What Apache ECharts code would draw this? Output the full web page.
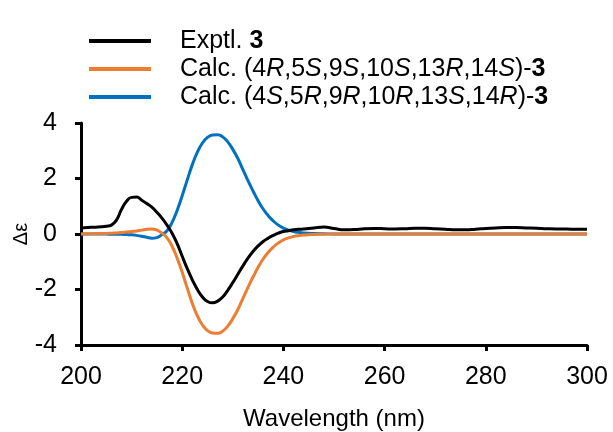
<!DOCTYPE html>
<html>
<head>
<meta charset="utf-8">
<script src="https://cdn.jsdelivr.net/npm/echarts@6/dist/echarts.min.js"></script>
<style>
  html, body { margin: 0; padding: 0; background: #fff; }
  #chart { width: 613px; height: 432px; }
</style>
</head>
<body>
<div id="chart"></div>
<script>
// CD spectra: experimental curve and two calculated enantiomer curves
const wavelengths = [
  200, 202, 204, 205, 206, 207, 208, 209, 210, 211, 212, 213, 214, 215, 216, 217, 218, 219,
  220, 221, 222, 223, 224, 225, 226, 227, 228, 229, 230, 231, 232, 233, 234, 235, 236, 237,
  238, 239, 240, 241, 242, 243, 244, 246, 248, 250, 252, 254, 256, 258, 260, 262, 264, 266,
  268, 270, 272, 274, 276, 278, 280, 282, 284, 286, 288, 290, 292, 294, 296, 298, 300
];

const exptl = [
  0.22, 0.24, 0.26, 0.28, 0.32, 0.50, 0.88, 1.18, 1.32, 1.33, 1.22, 1.10, 0.97, 0.78, 0.57, 0.32, 0.03, -0.35,
  -0.80, -1.25, -1.65, -2.00, -2.27, -2.43, -2.48, -2.42, -2.27, -2.03, -1.75, -1.45, -1.15, -0.87, -0.63, -0.43, -0.27, -0.15,
  -0.05, 0.03, 0.09, 0.12, 0.15, 0.17, 0.18, 0.22, 0.25, 0.20, 0.15, 0.16, 0.19, 0.20, 0.19, 0.18, 0.19, 0.21,
  0.21, 0.19, 0.17, 0.15, 0.15, 0.17, 0.20, 0.22, 0.23, 0.23, 0.22, 0.21, 0.19, 0.18, 0.18, 0.17, 0.17
];

const calcRS = [
  0.00, 0.01, 0.02, 0.02, 0.03, 0.04, 0.05, 0.07, 0.09, 0.11, 0.14, 0.17, 0.18, 0.14, 0.03, -0.14, -0.44, -0.87,
  -1.38, -1.95, -2.50, -2.95, -3.28, -3.48, -3.57, -3.58, -3.50, -3.32, -3.05, -2.72, -2.32, -1.92, -1.55, -1.20, -0.90, -0.66,
  -0.47, -0.32, -0.21, -0.14, -0.09, -0.06, -0.04, -0.02, -0.01, 0.00, 0.00, 0.00, 0.00, 0.00, 0.00, 0.00, 0.00, 0.00,
  0.00, 0.00, 0.00, 0.00, 0.00, 0.00, 0.00, 0.00, 0.00, 0.00, 0.00, 0.00, 0.00, 0.00, 0.00, 0.00, 0.00
];

const calcSR = [
  0.00, 0.00, 0.00, 0.00, -0.01, -0.01, -0.01, -0.02, -0.03, -0.05, -0.08, -0.12, -0.15, -0.13, -0.02, 0.12, 0.42, 0.85,
  1.38, 1.95, 2.50, 2.95, 3.28, 3.48, 3.57, 3.58, 3.50, 3.32, 3.05, 2.72, 2.32, 1.92, 1.55, 1.20, 0.90, 0.66,
  0.47, 0.32, 0.21, 0.14, 0.09, 0.06, 0.04, 0.02, 0.01, 0.00, 0.00, 0.00, 0.00, 0.00, 0.00, 0.00, 0.00, 0.00,
  0.00, 0.00, 0.00, 0.00, 0.00, 0.00, 0.00, 0.00, 0.00, 0.00, 0.00, 0.00, 0.00, 0.00, 0.00, 0.00, 0.00
];

const seriesNames = ['Exptl. 3', 'Calc. (4R,5S,9S,10S,13R,14S)-3', 'Calc. (4S,5R,9R,10R,13S,14R)-3'];
const legendLabels = [
  'Exptl. {b|3}',
  'Calc. (4{i|R},5{i|S},9{i|S},10{i|S},13{i|R},14{i|S})-{b|3}',
  'Calc. (4{i|S},5{i|R},9{i|R},10{i|R},13{i|S},14{i|R})-{b|3}'
];
const seriesColors = ['#000000', '#ED7D31', '#0070C0'];
const xTicks = { min: 200, max: 300, interval: 20 };
const yTicks = { min: -4, max: 4, interval: 2 };

const font = 'Liberation Sans, Arial, sans-serif';
const fs = 25;
const pairs = (ys) => wavelengths.map((x, i) => [x, ys[i]]);

const chart = echarts.init(document.getElementById('chart'), null, { renderer: 'canvas' });

const mkSeries = (i, ys) => ({
  name: seriesNames[i],
  type: 'line',
  data: pairs(ys),
  smooth: 0.5,
  showSymbol: false,
  symbol: 'none',
  lineStyle: { color: seriesColors[i], width: 3 },
  itemStyle: { color: seriesColors[i] },
  z: 10 - i
});

chart.setOption({
  animation: false,
  backgroundColor: '#ffffff',
  grid: { left: 81, right: 26, top: 123, bottom: 87, containLabel: false, outerBoundsMode: 'none' },
  legend: {
    orient: 'vertical',
    left: 84,
    top: 22,
    itemGap: 0,
    itemWidth: 62,
    itemHeight: 4,
    icon: 'rect',
    data: seriesNames,
    formatter: (name) => legendLabels[seriesNames.indexOf(name)],
    textStyle: {
      fontFamily: font,
      fontSize: fs,
      color: '#000',
      lineHeight: 28,
      padding: [0, 0, 0, 24],
      rich: {
        i: { fontFamily: font, fontSize: fs, lineHeight: 28, fontStyle: 'italic', color: '#000' },
        b: { fontFamily: font, fontSize: fs, lineHeight: 28, fontWeight: 'bold', color: '#000' }
      }
    }
  },
  xAxis: {
    type: 'value',
    min: xTicks.min,
    max: xTicks.max,
    interval: xTicks.interval,
    name: 'Wavelength (nm)',
    nameLocation: 'middle',
    nameGap: 62,
    nameMoveOverlap: false,
    nameTextStyle: { fontFamily: font, fontSize: 24, color: '#000' },
    axisLine: { show: true, onZero: false, lineStyle: { color: '#000', width: 3 } },
    axisTick: { show: true, inside: false, length: 6, lineStyle: { color: '#000', width: 3 } },
    axisLabel: { fontFamily: font, fontSize: fs, color: '#000', margin: 20 },
    splitLine: { show: false }
  },
  yAxis: {
    type: 'value',
    min: yTicks.min,
    max: yTicks.max,
    interval: yTicks.interval,
    name: 'Δε',
    nameLocation: 'middle',
    nameGap: 50,
    nameMoveOverlap: false,
    nameRotate: 90,
    nameTextStyle: { fontFamily: font, fontSize: 20, color: '#000' },
    axisLine: { show: true, onZero: false, lineStyle: { color: '#000', width: 3 } },
    axisTick: { show: true, inside: false, length: 6, lineStyle: { color: '#000', width: 3 } },
    axisLabel: { fontFamily: font, fontSize: fs, color: '#000', margin: 24 },
    splitLine: { show: false }
  },
  series: [mkSeries(0, exptl), mkSeries(1, calcRS), mkSeries(2, calcSR)]
});
</script>
</body>
</html>
